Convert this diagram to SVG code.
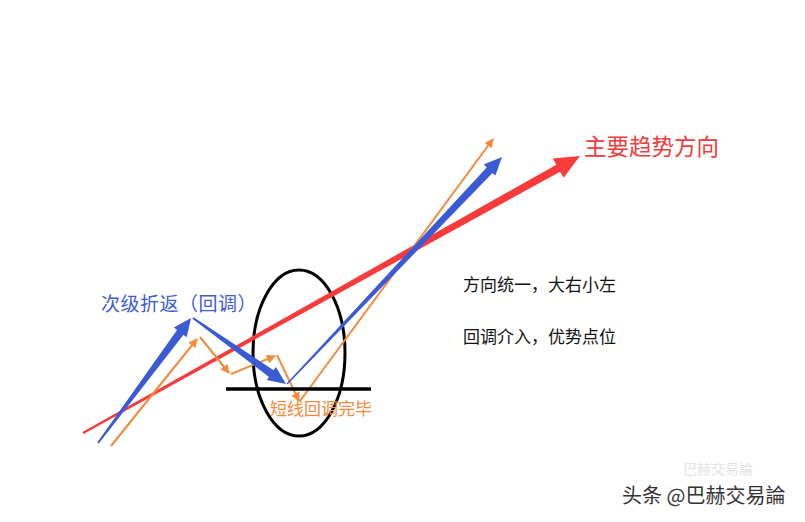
<svg xmlns="http://www.w3.org/2000/svg" width="805" height="522" viewBox="0 0 805 522">
<defs>
<marker id="oa" viewBox="0 0 10 10" refX="9" refY="5" markerWidth="10" markerHeight="9" markerUnits="userSpaceOnUse" orient="auto">
<path d="M0,0 L10,5 L0,10 Z" fill="#F38A3C"/>
</marker>
<style>
.t{font-family:"Noto Sans CJK SC","Noto Sans",sans-serif;}
.o{stroke:#F38A3C;stroke-width:2;fill:none;marker-end:url(#oa);}
.red{fill:#F93A3A;}
.blue{fill:#3B5BD5;}
</style>
</defs>
<rect width="805" height="522" fill="#FFFFFF"/>
<g id="ellipse"><ellipse cx="299" cy="353" rx="46" ry="83" fill="none" stroke="#000" stroke-width="3"/></g>
<g id="connectors">
<polygon class="red" points="82.5,432.1 556.3,164.7 552.8,158.6 580,156 563.6,177.8 560.1,171.7 83.5,433.9"/>
<polyline class="o" points="111,446 197,339"/>
<polyline class="o" points="200,337 229,373"/>
<polyline class="o" points="231,374 275,356"/>
<polyline class="o" points="277,355 299,401"/>
<polyline class="o" points="300,401 493,139"/>
<polygon class="blue" points="97.2,442.4 177.1,330.0 173.9,327.6 191,318 186.7,337.2 183.5,334.8 98.8,443.6"/>
<polygon class="blue" points="193.6,317.2 273.6,370.3 275.9,367.1 286,384 266.7,380.1 269.0,376.9 192.4,318.8"/>
<polygon class="blue" points="286.5,383.5 486.7,167.4 483.8,164.6 502,157 495.4,175.6 492.5,172.9 287.5,384.5"/>
<line x1="226" y1="389" x2="371" y2="389" stroke="#000" stroke-width="3.5"/>
</g>
<g id="label-main"><text class="t" x="584" y="155" font-size="22.5" fill="#F03C3C">主要趋势方向</text></g>
<g id="label-secondary"><text class="t" x="101" y="311" font-size="19" letter-spacing="0.5" fill="#3D5BD5">次级折返（回调）</text></g>
<g id="label-short"><text class="t" x="270" y="415" font-size="17" fill="#F38A3C">短线回调完毕</text></g>
<g id="note1"><text class="t" x="463" y="291" font-size="17" fill="#111">方向统一，大右小左</text></g>
<g id="note2"><text class="t" x="463" y="343" font-size="17" fill="#111">回调介入，优势点位</text></g>
<g id="watermark">
<text class="t" x="683" y="474" font-size="14" fill="#d8d8d8" opacity="0.7">巴赫交易論</text>
<text class="t" x="622" y="503" font-size="20" fill="#333" stroke="#fff" stroke-width="0.6" paint-order="stroke">头条 @巴赫交易論</text>
</g>
</svg>
